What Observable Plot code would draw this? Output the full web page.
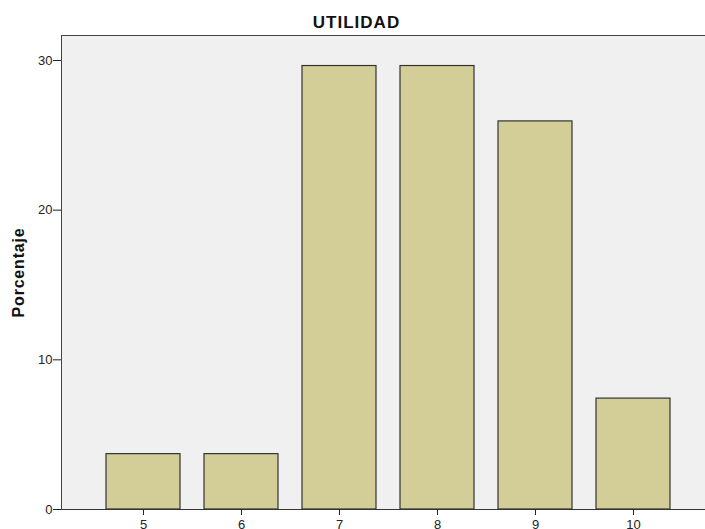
<!DOCTYPE html>
<html>
<head>
<meta charset="utf-8">
<script src="https://cdn.jsdelivr.net/npm/d3@7"></script>
<script src="https://cdn.jsdelivr.net/npm/@observablehq/plot@0.6"></script>
<style>
  html, body { margin: 0; padding: 0; background: #fff; }
  svg { font-family: "Liberation Sans", Arial, sans-serif; }
</style>
</head>
<body>
<div id="chart"></div>
<script>
const title = "UTILIDAD";
const yLabel = "Porcentaje";
const categories = ["5", "6", "7", "8", "9", "10"];
const percentages = [3.70, 3.70, 29.63, 29.63, 25.93, 7.41];
const yTicks = [0, 10, 20, 30];

const data = categories.map((c, i) => ({cat: c, pct: percentages[i]}));

const chart = Plot.plot({
  width: 705,
  height: 529,
  marginLeft: 61,
  marginRight: 0,
  marginTop: 35,
  marginBottom: 20,
  style: {fontFamily: "'Liberation Sans', Arial, sans-serif", fontSize: "13px", color: "#222", background: "#fff"},
  x: {domain: categories, range: [61, 714], paddingInner: 0.25, paddingOuter: 0.45},
  y: {domain: [0, 31.67], ticks: yTicks},
  marks: [
    Plot.frame({fill: "#f0f0f0", stroke: null}),
    Plot.frame({anchor: "top", stroke: "#444", strokeWidth: 1}),
    Plot.frame({anchor: "left", stroke: "#444", strokeWidth: 1}),
    Plot.barY(data, {x: "cat", y: "pct", fill: "#d3ce97", stroke: "#333", strokeWidth: 1.2}),
    Plot.ruleY([0], {stroke: "#333", strokeWidth: 1}),
    Plot.axisY({ticks: yTicks, tickSize: 8, tickPadding: 1, label: null, fontSize: 13}),
    Plot.axisX({tickSize: 6, tickPadding: 4, label: null, fontSize: 13}),
    Plot.text([title], {frameAnchor: "top-left", dx: 295, dy: -8, textAnchor: "middle", lineAnchor: "bottom", fontSize: 17, fontWeight: "bold", fill: "#111", letterSpacing: "1px"}),
    Plot.text([yLabel], {frameAnchor: "left", dx: -38, rotate: -90, textAnchor: "middle", lineAnchor: "bottom", fontSize: 16, fontWeight: "bold", fill: "#111"})
  ]
});

chart.querySelectorAll("text").forEach(t => {
  if (t.textContent === yLabel) t.setAttribute("letter-spacing", "0.8px");
  if (t.textContent === title) t.setAttribute("letter-spacing", "1px");
});
document.getElementById("chart").appendChild(chart);
</script>
</body>
</html>
